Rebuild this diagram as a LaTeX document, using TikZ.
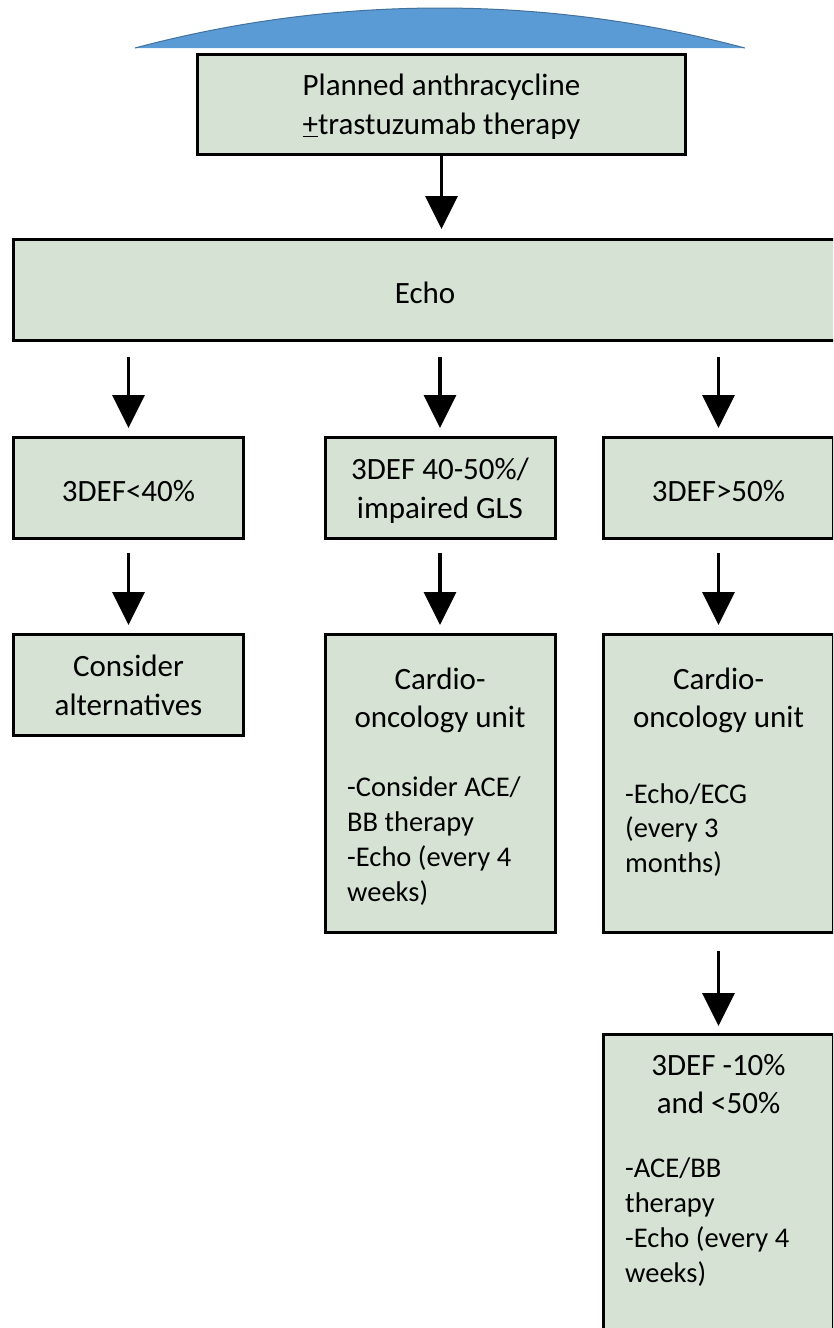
\documentclass[tikz,border=0pt]{standalone}
\usepackage{fontspec}
\setmainfont{Carlito}
\usepackage{tikz}
\usetikzlibrary{arrows.meta}

\definecolor{boxgreen}{RGB}{213,226,212}
\definecolor{capblue}{RGB}{91,155,213}
\definecolor{capedge}{RGB}{65,113,156}

\tikzset{
    flowbox/.style={draw, line width=3pt, fill=boxgreen, inner sep=0pt,
        minimum width=230pt, minimum height=101pt, align=center,
        text depth=0pt, font=\fontsize{31}{39}\selectfont},
    oneline/.style={text height=27pt},
    twoline/.style={execute at begin node={\rule{0pt}{30pt}}},
    headtext/.style={align=center, inner sep=0pt, anchor=north,
        font=\fontsize{31}{38}\selectfont},
    bodytext/.style={align=left, inner sep=0pt, anchor=north west,
        font=\fontsize{28.5}{35}\selectfont},
    flowarrow/.style={line width=3.5pt, -{Triangle[width=32pt,length=33pt]}}
}

\begin{document}
\begin{tikzpicture}[x=1pt, y=1pt]

    \clip (0,0) rectangle (833,-1328);

    % Cap
    \fill[capblue] (135,-48) arc[start angle=104.94, end angle=75.06, radius=1182.8] -- cycle;
    \draw[capedge, line width=1pt] (135,-48) arc[start angle=104.94, end angle=75.06, radius=1182.8];

    % Start and echo
    \node[flowbox, twoline, minimum width=488pt, minimum height=100pt] (plan) at (441.5,-104.5)
        {Planned anthracycline\\\underline{+}trastuzumab therapy};
    \node[flowbox, oneline, minimum width=823pt] (echo) at (425,-290) {Echo};

    % EF groups
    \node[flowbox, oneline] (efLow) at (128.5,-488) {3DEF<40\%};
    \node[flowbox, twoline] (efMid) at (440,-488) {3DEF 40-50\%/\\impaired GLS};
    \node[flowbox, oneline] (efHigh) at (718.5,-488) {3DEF>50\%};

    % Follow-up
    \node[flowbox, twoline] (altern) at (128.5,-685) {Consider\\alternatives};

    \node[flowbox, minimum height=298pt] (unitMid) at (440,-783.5) {};
    \node[headtext] (unitMid-head) at (440,-668) {Cardio-\\oncology unit};
    \node[bodytext] (unitMid-body) at (347,-776)
        {-Consider ACE/\\BB therapy\\-Echo (every 4\\weeks)};

    \node[flowbox, minimum height=298pt] (unitHigh) at (718.5,-783.5) {};
    \node[headtext] (unitHigh-head) at (718.5,-668) {Cardio-\\oncology unit};
    \node[bodytext] (unitHigh-body) at (625,-783)
        {-Echo/ECG\\(every 3\\months)};

    \node[flowbox, minimum height=298pt] (drop) at (718.5,-1183.5) {};
    \node[headtext] (drop-head) at (718.5,-1054) {3DEF -10\%\\and <50\%};
    \node[bodytext] (drop-body) at (625,-1157)
        {-ACE/BB\\therapy\\-Echo (every 4\\weeks)};

    % Arrows
    \draw[flowarrow, shorten >=9pt] (plan.south) -- (echo.north -| plan.south);
    \foreach \nd in {efLow, efMid, efHigh}
        \draw[flowarrow, shorten <=15pt, shorten >=8pt] (echo.south -| \nd.north) -- (\nd.north);
    \draw[flowarrow, shorten <=13pt, shorten >=8pt] (efLow.south) -- (altern.north);
    \draw[flowarrow, shorten <=13pt, shorten >=8pt] (efMid.south) -- (unitMid.north);
    \draw[flowarrow, shorten <=13pt, shorten >=8pt] (efHigh.south) -- (unitHigh.north);
    \draw[flowarrow, shorten <=17pt, shorten >=7pt] (unitHigh.south) -- (drop.north);

\end{tikzpicture}
\end{document}
